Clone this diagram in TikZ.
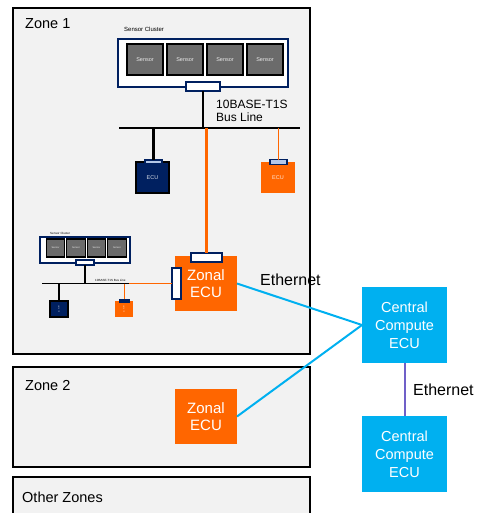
\documentclass[tikz,border=0pt]{standalone}
\usepackage{fontspec}
\setmainfont{Liberation Sans}
\definecolor{zonebg}{HTML}{F2F2F2}
\definecolor{ecuorange}{HTML}{FF6600}
\definecolor{navy}{HTML}{002060}
\definecolor{sensorgray}{HTML}{6B6B6B}
\definecolor{ccblue}{HTML}{00B0F0}
\definecolor{linkpurple}{HTML}{7060C8}
\definecolor{portfill}{HTML}{B4C7E7}
\tikzset{
  box/.style={rectangle, inner sep=0pt, outer sep=0pt},
  zonebox/.style={box, draw=black, line width=2.2pt, fill=zonebg},
  zonelabel/.style={anchor=base west, inner sep=0pt, font=\fontsize{14.5}{17}\selectfont},
  cluster/.style={box, draw=navy, line width=1.8pt, fill=white},
  sensorbox/.style={box, draw=black, line width=2pt, fill=sensorgray, text=white!85!sensorgray, font=\fontsize{5.5}{6}\selectfont},
  smallsensor/.style={box, draw=black, line width=1.2pt, fill=sensorgray, text=white!85!sensorgray, font=\fontsize{2.5}{3}\selectfont},
  port/.style={box, draw=navy, line width=1.5pt, fill=white},
  ecuport/.style={box, draw=navy, line width=1.2pt, fill=portfill},
  navyecu/.style={box, draw=black, line width=1.7pt, fill=navy, text=white!85!navy},
  orangeecu/.style={box, fill=ecuorange, text=white!85!ecuorange},
  zonal/.style={box, fill=ecuorange, text=white, align=center, font=\fontsize{15}{17}\selectfont},
  central/.style={box, fill=ccblue, text=white, align=center, font=\fontsize{14.5}{18}\selectfont,
    minimum width=85pt, minimum height=76pt},
  bus/.style={line width=2.2pt, black},
  obus/.style={line width=2.2pt, ecuorange},
  eth/.style={line width=2pt, ccblue},
  plain/.style={anchor=base west, inner sep=0pt},
}
\begin{document}
\begin{tikzpicture}[x=1pt, y=-1pt]
\useasboundingbox (0,0) rectangle (481,513);

% zones
\node[zonebox, minimum width=297pt, minimum height=346pt] (zone1) at (161.5,181) {};
\node[zonebox, minimum width=297pt, minimum height=100pt] (zone2) at (161.5,417) {};
\node[zonebox, minimum width=297pt, minimum height=60pt] (zone3) at (161.5,507) {};
\node[zonelabel] (z1lbl) at (25,29) {Zone 1};
\node[zonelabel] (z2lbl) at (25,390) {Zone 2};
\node[zonelabel] (z3lbl) at (22,502) {Other Zones};

% main sensor cluster in zone 1
\node[cluster, minimum width=170pt, minimum height=48pt] (clA) at (203,63) {};
\node[plain, font=\fontsize{6}{7}\selectfont] (clAlbl) at (124,32) {Sensor Cluster};
\foreach \i/\x in {1/145,2/185,3/225,4/265}
  \node[sensorbox, minimum width=36pt, minimum height=31pt] (sA\i) at (\x,59.5) {Sensor};
\node[port, minimum width=34pt, minimum height=9pt] (pA) at (203,86.5) {};
\coordinate (busAw) at (119,128);
\coordinate (busAe) at (300,128);
\draw[bus] (busAw) -- (busAe);
\coordinate (busAc) at (203,128);
\draw[bus] (pA.south) -- (busAc);
\node[plain, font=\fontsize{12}{13}\selectfont, align=left, anchor=north west] (busAlbl) at (216,100)
  {10BASE-T1S\\[-0.5pt]Bus Line};

% ECUs on the main bus
\node[navyecu, minimum width=33pt, minimum height=31pt, font=\fontsize{5.5}{6}\selectfont] (ecuN) at (152.5,177.5) {ECU};
\node[ecuport, minimum width=17pt, minimum height=4pt] (ecuNp) at (153.5,162) {};
\coordinate (tapN) at (153.5,128);
\draw[bus] (tapN) -- (ecuNp.north);
\node[orangeecu, minimum width=34pt, minimum height=31pt, font=\fontsize{5.5}{6}\selectfont] (ecuO) at (278,177.5) {ECU};
\node[ecuport, minimum width=17pt, minimum height=5pt] (ecuOp) at (278.5,162) {};
\coordinate (tapO) at (278.5,128);
\draw[obus, line width=1.7pt] (tapO) -- (ecuOp.north);

% zonal ECU of zone 1
\node[zonal, minimum width=62pt, minimum height=55pt] (zecu1) at (206,283.5) {Zonal\\ECU};
\coordinate (tapZ) at (206.5,128);
\node[port, minimum width=31pt, minimum height=9pt] (zp1) at (206.5,257.5) {};
\draw[obus] (tapZ) -- (zp1.north);
\node[port, minimum width=9pt, minimum height=31pt] (zp2) at (176.5,283.5) {};

% small sensor cluster in zone 1
\node[cluster, line width=1.4pt, minimum width=90pt, minimum height=26pt] (clB) at (85,250) {};
\node[plain, font=\fontsize{3}{3.5}\selectfont] (clBlbl) at (50,234.5) {Sensor Cluster};
\foreach \i/\x in {1/55.5,2/76,3/96.5,4/117}
  \node[smallsensor, minimum width=18.5pt, minimum height=18pt] (sB\i) at (\x,248) {Sensor};
\node[port, line width=1.1pt, minimum width=18pt, minimum height=5pt] (pB) at (85,262.5) {};
\coordinate (busBw) at (42,283.5);
\coordinate (busBe) at (129,283.5);
\draw[bus, line width=1.8pt] (busBw) -- (busBe);
\draw[obus, line width=1.8pt] (busBe) -- (zp2.west);
\coordinate (busBc) at (85,283.5);
\draw[bus, line width=1.5pt] (pB.south) -- (busBc);
\node[plain, font=\fontsize{3}{3.5}\selectfont] (busBlbl) at (95,281) {10BASE-T1S Bus Line};
\node[navyecu, line width=1.3pt, minimum width=18pt, minimum height=16pt, align=center,
  font=\fontsize{2.3}{2.6}\selectfont] (ecuNs) at (59,309) {E\\C\\U};
\coordinate (tapNs) at (59,283.5);
\draw[bus, line width=1.5pt] (tapNs) -- (ecuNs.north);
\node[orangeecu, minimum width=18pt, minimum height=16pt, align=center,
  font=\fontsize{2.3}{2.6}\selectfont] (ecuOs) at (124,309) {E\\C\\U};
\node[box, fill=navy, minimum width=11pt, minimum height=4pt] (ecuOsp) at (124.5,301) {};
\coordinate (tapOs) at (124.5,283.5);
\draw[obus, line width=1.5pt] (tapOs) -- (ecuOsp.north);

% zonal ECU of zone 2
\node[zonal, minimum width=62pt, minimum height=55pt] (zecu2) at (206,416.5) {Zonal\\ECU};

% central compute
\node[central] (cc1) at (404.5,325) {Central\\Compute\\ECU};
\node[central] (cc2) at (404.5,454) {Central\\Compute\\ECU};

% links
\draw[eth] (zecu1.east) -- (cc1.west);
\draw[eth] (zecu2.east) -- (cc1.west);
\draw[line width=2pt, linkpurple] (cc1.south) -- (cc2.north);
\node[plain, font=\fontsize{16}{18}\selectfont] (eth1) at (260,285) {Ethernet};
\node[plain, font=\fontsize{16}{18}\selectfont] (eth2) at (413,395) {Ethernet};
\end{tikzpicture}
\end{document}
